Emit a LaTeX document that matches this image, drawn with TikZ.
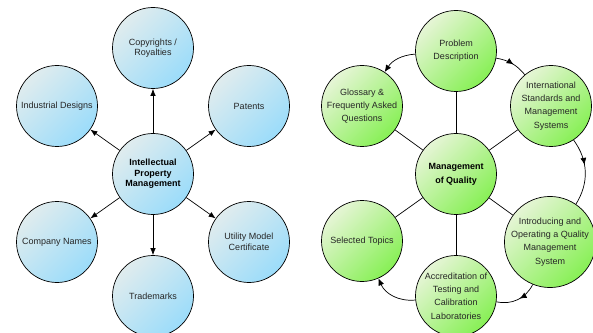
\documentclass[tikz,border=0pt]{standalone}
\usepackage{fontspec}
\setmainfont{Liberation Sans}
\usetikzlibrary{arrows.meta,decorations.markings}
\definecolor{bluelight}{RGB}{224,236,238}
\definecolor{bluedark}{RGB}{155,220,250}
\definecolor{greenlight}{RGB}{230,245,214}
\definecolor{greendark}{RGB}{135,240,85}
\begin{document}
\begin{tikzpicture}[x=1pt,y=1pt,
  bub/.style={circle, draw=black, line width=0.7pt, minimum size=81pt, inner sep=0pt,
    align=center, text=black!85, font=\fontsize{9}{10.5}\selectfont},
  bluebub/.style={bub, top color=bluelight, bottom color=bluedark, shading angle=45},
  greenbub/.style={bub, top color=greenlight, bottom color=greendark, shading angle=45,
    font=\fontsize{9}{13.3}\selectfont},
  hubblue/.style={bluebub, font=\bfseries\fontsize{9}{10.5}\selectfont, text=black},
  hubgreen/.style={greenbub, font=\bfseries\fontsize{9}{14}\selectfont, text=black},
  spoke/.style={line width=0.7pt, -{Latex[length=7pt,width=5.5pt]}},
  plainspoke/.style={line width=0.7pt},
  cyc/.style={line width=0.7pt},
  cycend/.style={cyc, -{Latex[length=7pt,width=6pt]}},
  cycmid/.style={cyc, postaction={decorate}, decoration={markings,
    mark=at position #1 with {\arrow{Latex[length=7pt,width=6pt]}}}}
]
\useasboundingbox (0,0) rectangle (593,332);
% left diagram
\node[hubblue] (ipm) at (153,158) {Intellectual\\Property\\Management};
\node[bluebub] (copy) at (153,284) {Copyrights /\\Royalties};
\node[bluebub] (ind) at (57,226) {Industrial Designs};
\node[bluebub] (pat) at (249,226) {Patents};
\node[bluebub] (comp) at (57,90) {Company Names};
\node[bluebub] (util) at (249,90) {Utility Model\\Certificate};
\node[bluebub] (trade) at (153,36) {Trademarks};
\foreach \t in {copy,ind,pat,comp,util,trade} \draw[spoke] (ipm) -- (\t);
% right diagram
\node[hubgreen] (moq) at (456,158) {Management\\of Quality};
\node[greenbub] (prob) at (456,281) {Problem\\Description};
\node[greenbub] (intl) at (551,226) {International\\Standards and\\Management\\Systems};
\node[greenbub] (gloss) at (362,226) {Glossary \&\\Frequently Asked\\Questions};
\node[greenbub] (sel) at (362,91) {Selected Topics};
\node[greenbub] (intro) at (550,90) {Introducing and\\Operating a Quality\\Management\\System};
\node[greenbub] (accr) at (456,36) {Accreditation of\\Testing and\\Calibration\\Laboratories};
\foreach \t in {prob,intl,gloss,sel,intro,accr} \draw[plainspoke] (moq) -- (\t);
\draw[cycmid=0.55] (prob) to[bend left=20] (intl);
\draw[cycmid=0.4] (intl) to[bend left=34] (intro);
\draw[cycmid=0.45] (intro) to[bend left=38] (accr);
\draw[cycend] (accr) to[bend left=36] (sel);
\draw[cycend] (prob) to[bend right=26] (gloss);
\end{tikzpicture}
\end{document}
